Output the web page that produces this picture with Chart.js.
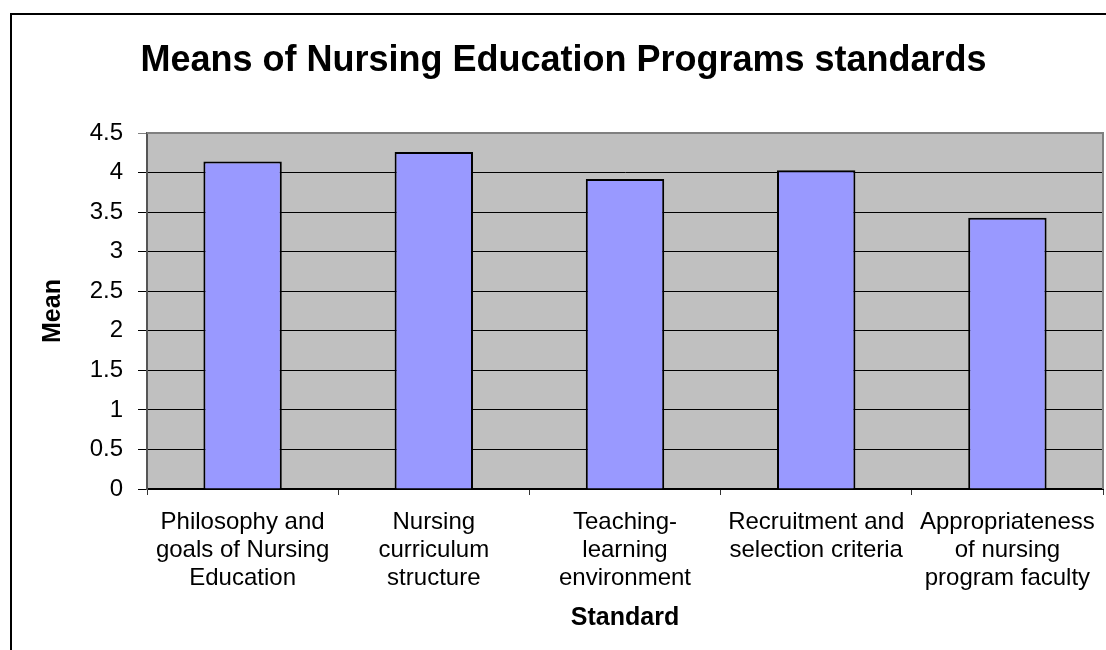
<!DOCTYPE html>
<html lang="en">
<head>
  <meta charset="UTF-8" />
  <title>Means of Nursing Education Programs standards</title>
  <script src="https://cdn.jsdelivr.net/npm/chart.js"></script>
  <style>
    body { margin: 0; background: #fff; }
    canvas { display: block; }
  </style>
</head>
<body>
<canvas id="chart" width="1106" height="650"></canvas>
<script>
const categories = [
  ['Philosophy and', 'goals of Nursing', 'Education'],
  ['Nursing', 'curriculum', 'structure'],
  ['Teaching-', 'learning', 'environment'],
  ['Recruitment and', 'selection criteria'],
  ['Appropriateness', 'of nursing', 'program faculty']
];
const means = [4.14, 4.26, 3.92, 4.03, 3.43];

const FONT = "'Liberation Sans', Arial, sans-serif";

// grey plot area + frame round the whole chart, like the old Excel look
const framePlugin = {
  id: 'frame',
  beforeDraw(chart) {
    const { ctx, chartArea: a } = chart;
    ctx.save();
    ctx.fillStyle = '#fff';
    ctx.fillRect(0, 0, chart.width, chart.height);
    ctx.fillStyle = '#c0c0c0';
    ctx.fillRect(a.left, a.top, a.right - a.left, a.bottom - a.top);
    ctx.strokeStyle = '#000';
    ctx.lineWidth = 2;
    ctx.strokeRect(11, 14, chart.width, chart.height + 20);
    ctx.restore();
  },
  afterDraw(chart) {
    const { ctx, chartArea: a } = chart;
    ctx.save();
    ctx.strokeStyle = '#808080';
    ctx.lineWidth = 2;
    ctx.beginPath();
    ctx.moveTo(a.left, a.top);
    ctx.lineTo(a.right, a.top);
    ctx.lineTo(a.right, a.bottom);
    ctx.stroke();
    ctx.restore();
  }
};

new Chart(document.getElementById('chart'), {
  type: 'bar',
  data: {
    labels: categories,
    datasets: [{
      label: 'Mean',
      data: means,
      backgroundColor: '#9999ff',
      borderColor: '#000',
      borderWidth: 2,
      barPercentage: 0.41,
      categoryPercentage: 1
    }]
  },
  options: {
    responsive: false,
    animation: false,
    layout: { padding: { left: 24, right: 3, top: 0, bottom: 0 } },
    plugins: {
      legend: { display: false },
      tooltip: { enabled: false },
      title: {
        display: true,
        text: 'Means of Nursing Education Programs standards',
        color: '#000',
        font: { family: FONT, size: 36, weight: 'bold', lineHeight: 1.2 },
        padding: { top: 39.4, bottom: 50.4 }
      }
    },
    scales: {
      x: {
        afterFit(scale) {
          scale.height = 161;
          // labels fit inside their categories, no extra side room needed
          scale.paddingLeft = 0;
          scale.paddingRight = 0;
        },
        grid: {
          offset: true,
          drawOnChartArea: false,
          drawTicks: true,
          tickLength: 6,
          color: '#333'
        },
        border: { color: '#000', width: 2 },
        ticks: {
          color: '#000',
          padding: 14,
          maxRotation: 0,
          autoSkip: false,
          font: { family: FONT, size: 24, lineHeight: 1.15 }
        },
        title: {
          display: true,
          text: 'Standard',
          color: '#000',
          font: { family: FONT, size: 25, weight: 'bold', lineHeight: 1.2 },
          padding: { top: 0, bottom: 17 }
        }
      },
      y: {
        min: 0,
        max: 4.5,
        afterFit(scale) { scale.width = 123; },
        grid: {
          color: ctx => ctx.index === 9 ? '#808080' : '#000',
          lineWidth: 1,
          tickLength: 9
        },
        border: { color: '#555', width: 2 },
        ticks: {
          stepSize: 0.5,
          color: '#000',
          padding: 15,
          font: { family: FONT, size: 24 },
          callback: v => String(v)
        },
        title: {
          display: true,
          text: 'Mean',
          color: '#000',
          font: { family: FONT, size: 25, weight: 'bold', lineHeight: 1.2 },
          padding: { top: 14, bottom: 0 }
        }
      }
    }
  },
  plugins: [framePlugin]
});
</script>
</body>
</html>
